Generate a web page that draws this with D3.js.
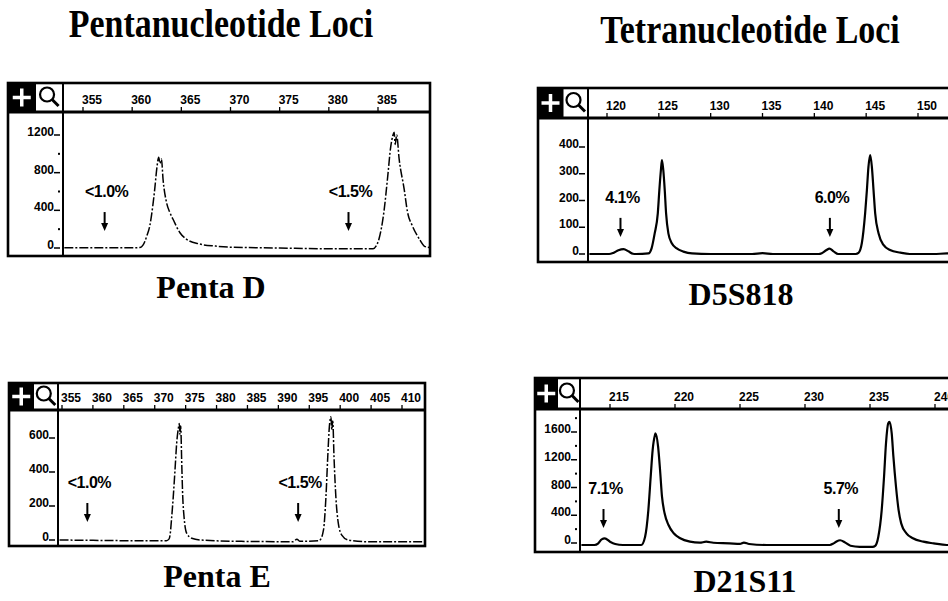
<!DOCTYPE html>
<html>
<head>
<meta charset="utf-8">
<script src="https://cdn.jsdelivr.net/npm/d3@7/dist/d3.min.js"></script>
<style>
  body { margin: 0; background: #fff; }
  svg { display: block; }
</style>
</head>
<body>
<svg id="chart" width="948" height="601"></svg>
<script>
// column headings and locus names
var columnTitles = ['Pentanucleotide Loci', 'Tetranucleotide Loci'];
var lociNames = ['Penta D', 'D5S818', 'Penta E', 'D21S11'];

// size ticks (bp) along the top of each trace
var pentaDSizeTicks = [355, 360, 365, 370, 375, 380, 385];
var d5s818SizeTicks = [120, 125, 130, 135, 140, 145, 150];
var pentaESizeTicks = [355, 360, 365, 370, 375, 380, 385, 390, 395, 400, 405, 410];
var d21s11SizeTicks = [215, 220, 225, 230, 235, 240];

// signal ticks (RFU)
var pentaDSignalTicks = [0, 400, 800, 1200];
var pentaDSignalMinor = [200, 600, 1000];
var d5s818SignalTicks = [0, 100, 200, 300, 400];
var pentaESignalTicks = [0, 200, 400, 600];
var d21s11SignalTicks = [0, 400, 800, 1200, 1600];
var d21s11SignalMinor = [200, 600, 1000, 1400, 1800];

// stutter annotations: label, size (bp), arrow tip (RFU)
var pentaDStutter = [['<1.0%', 357.2, 180], ['<1.5%', 382.0, 180]];
var d5s818Stutter = [['4.1%', 121.3, 64], ['6.0%', 141.5, 64]];
var pentaEStutter = [['<1.0%', 359.1, 106], ['<1.5%', 393.2, 106]];
var d21s11Stutter = [['7.1%', 214.5, 216], ['5.7%', 232.6, 216]];

// traces: [size bp, signal RFU]
var pentaDTrace = [
  [353.1, 2], [357, 2], [360, 2], [360.8, 5], [361.1, 30], [361.5, 130], [361.8, 240],
  [362.1, 450], [362.3, 630], [362.5, 840], [362.7, 965], [362.82, 900], [362.98, 945],
  [363.14, 730], [363.49, 485], [363.82, 380], [364.16, 305], [364.84, 165], [365.5, 95],
  [366.87, 42], [368.5, 20], [370.2, 8], [375, 0], [380, -8], [384.5, -8], [384.8, 20],
  [385.1, 96], [385.6, 382], [385.96, 730], [386.3, 1080], [386.5, 1190], [386.64, 1230],
  [386.75, 1100], [386.9, 1200], [387.15, 945], [387.66, 626], [388, 382], [388.5, 234],
  [389.2, 96], [389.7, 21], [390.2, 5]
];
var d5s818Trace = [
  [118.3, 0], [120.2, 0], [120.6, 4], [121.1, 14], [121.6, 18], [122.1, 9], [122.5, 1],
  [122.8, 0], [124.0, 2], [124.3, 21], [124.6, 77], [124.9, 152], [125.05, 239],
  [125.2, 314], [125.3, 351], [125.43, 314], [125.57, 239], [125.7, 152], [125.92, 77],
  [126.25, 40], [126.73, 21], [127.37, 9], [128.2, 2], [130, 0], [134, 0], [135, 3],
  [136, 0], [140.4, 0], [140.72, 3], [141.14, 14], [141.46, 20], [141.85, 10], [142.3, 0],
  [144.0, 0], [144.26, 4], [144.58, 40], [144.9, 152], [145.07, 239], [145.22, 326],
  [145.39, 370], [145.55, 326], [145.71, 239], [145.87, 152], [146.2, 77], [146.67, 34],
  [147.3, 15], [148.3, 5], [149.2, 0], [151.5, 0], [152.8, 2], [154, 2]
];
var pentaETrace = [
  [354.6, 0], [360, -2], [366, -4], [371.9, -4], [372.3, 5], [372.48, 29], [372.75, 137],
  [373.0, 255], [373.28, 412], [373.55, 569], [373.82, 657], [373.98, 686], [374.08, 620],
  [374.2, 670], [374.37, 451], [374.53, 255], [374.74, 137], [375.18, 39], [375.99, 10],
  [377.33, 0], [384, -8], [392.4, -10], [393.0, 5], [393.5, -8], [396.5, -5], [396.75, 0],
  [397.3, 59], [397.7, 255], [397.99, 490], [398.25, 667], [398.5, 725], [398.65, 650],
  [398.8, 700], [399.0, 490], [399.3, 255], [399.7, 98], [400.26, 29], [401.3, 0],
  [404.3, -10], [413.5, -10]
];
var d21s11Trace = [
  [212.8, -29], [213.8, -29], [214.1, -5], [214.36, 53], [214.6, 67], [215.0, 19],
  [215.4, -14], [216.0, -29], [217.4, -29], [217.7, 91], [217.95, 475], [218.13, 955],
  [218.28, 1340], [218.46, 1556], [218.5, 1580], [218.7, 1388], [218.85, 1052],
  [219.0, 667], [219.2, 428], [219.5, 259], [219.9, 140], [220.4, 68], [221.15, 19],
  [221.9, 4], [222.4, 19], [222.95, 4], [224.2, -5], [225, -14], [225.3, 5], [225.7, -14],
  [227.05, -29], [229.6, -29], [231.9, -29], [232.2, -5], [232.4, 19], [232.7, 40],
  [233.1, 5], [233.5, -40], [234.2, -55], [235.2, -55], [235.4, -40], [235.64, 91],
  [235.9, 475], [236.08, 955], [236.23, 1436], [236.4, 1724], [236.5, 1748],
  [236.67, 1580], [236.8, 1244], [237.0, 811], [237.2, 475], [237.4, 283], [237.8, 140],
  [238.3, 68], [239.1, 19], [239.9, -5], [240.9, -29], [242, -29]
];

var svg = d3.select('#chart');

// panel frames; x/y ranges are the pixel spots of the first and last labelled ticks
var panels = [
  {name: lociNames[0], trace: pentaDTrace, sizeTicks: pentaDSizeTicks,
    signalTicks: pentaDSignalTicks, signalMinor: pentaDSignalMinor, stutter: pentaDStutter,
    box: [8, 83, 430, 256], head: 112, left: 63,
    xd: [355, 385], xr: [83, 378], yd: [0, 1200], yr: [248, 135],
    dashed: true, nameAt: [211, 298]},
  {name: lociNames[1], trace: d5s818Trace, sizeTicks: d5s818SizeTicks,
    signalTicks: d5s818SignalTicks, signalMinor: [], stutter: d5s818Stutter,
    box: [538, 88, 962, 262], head: 118, left: 588,
    xd: [120, 150], xr: [607, 918], yd: [0, 400], yr: [254, 147],
    dashed: false, nameAt: [741, 305]},
  {name: lociNames[2], trace: pentaETrace, sizeTicks: pentaESizeTicks,
    signalTicks: pentaESignalTicks, signalMinor: [], stutter: pentaEStutter,
    box: [9, 383, 425, 546], head: 410, left: 58,
    xd: [355, 410], xr: [62, 402], yd: [0, 600], yr: [540, 438],
    dashed: true, nameAt: [217, 587]},
  {name: lociNames[3], trace: d21s11Trace, sizeTicks: d21s11SizeTicks,
    signalTicks: d21s11SignalTicks, signalMinor: d21s11SignalMinor, stutter: d21s11Stutter,
    box: [535, 378, 962, 552], head: 409, left: 580,
    xd: [215, 240], xr: [610, 935], yd: [0, 1600], yr: [543, 432],
    dashed: false, nameAt: [745, 592]}
];

var serif = '"Liberation Serif", "Times New Roman", serif';
var sans = '"Liberation Sans", Arial, sans-serif';

// headings are a little taller than the plain face
[[columnTitles[0], 221, 37], [columnTitles[1], 750, 43]].forEach(function(t) {
  svg.append('text')
    .attr('transform', 'translate(' + t[1] + ',' + t[2] + ') scale(0.97,1.15)')
    .attr('text-anchor', 'middle')
    .style('font', 'bold 35px ' + serif)
    .text(t[0]);
});

panels.forEach(function(p, i) {
  var x = d3.scaleLinear().domain(p.xd).range(p.xr);
  var y = d3.scaleLinear().domain(p.yd).range(p.yr);
  var x0 = p.box[0], y0 = p.box[1], x1 = p.box[2], y1 = p.box[3];
  var g = svg.append('g');

  // clip for the trace area
  var clipId = 'clip' + i;
  svg.append('clipPath').attr('id', clipId)
    .append('rect')
    .attr('x', p.left).attr('y', p.head)
    .attr('width', x1 - p.left).attr('height', y1 - p.head);

  // icons: black plus box and magnifier box
  var iconW = (p.left - x0) / 2;
  g.append('rect')
    .attr('x', x0).attr('y', y0)
    .attr('width', iconW).attr('height', p.head - y0)
    .attr('fill', '#000');
  var cx = x0 + iconW / 2, cy = (y0 + p.head) / 2;
  g.append('path')
    .attr('d', 'M' + (cx - 9) + ',' + cy + 'H' + (cx + 9) + 'M' + cx + ',' + (cy - 9) + 'V' + (cy + 9))
    .attr('stroke', '#fff').attr('stroke-width', 3.5);
  var mx = x0 + iconW * 1.42, my = cy - 3;
  g.append('circle')
    .attr('cx', mx).attr('cy', my).attr('r', 7)
    .attr('fill', 'none').attr('stroke', '#000').attr('stroke-width', 2.2);
  g.append('line')
    .attr('x1', mx + 4.8).attr('y1', my + 4.8)
    .attr('x2', mx + 11.5).attr('y2', my + 11.5)
    .attr('stroke', '#000').attr('stroke-width', 3);

  // frame
  g.append('rect')
    .attr('x', x0).attr('y', y0)
    .attr('width', x1 - x0).attr('height', y1 - y0)
    .attr('fill', 'none').attr('stroke', '#000').attr('stroke-width', 2.6);
  g.append('line')
    .attr('x1', x0).attr('x2', x1).attr('y1', p.head).attr('y2', p.head)
    .attr('stroke', '#000').attr('stroke-width', 3);
  g.append('line')
    .attr('x1', p.left).attr('x2', p.left).attr('y1', y0).attr('y2', y1)
    .attr('stroke', '#000').attr('stroke-width', 2);
  g.append('line')
    .attr('x1', x0 + iconW).attr('x2', x0 + iconW).attr('y1', y0).attr('y2', p.head)
    .attr('stroke', '#000').attr('stroke-width', 1);

  // size ticks in the header
  var st = g.selectAll('.st').data(p.sizeTicks).enter().append('g');
  st.append('line')
    .attr('x1', function(d) { return x(d); }).attr('x2', function(d) { return x(d); })
    .attr('y1', p.head - 5).attr('y2', p.head)
    .attr('stroke', '#000').attr('stroke-width', 1.3);
  st.append('text')
    .attr('x', function(d) { return x(d) - 1; })
    .attr('y', p.head - 8)
    .style('font', 'bold 12px ' + sans)
    .text(function(d) { return d; });

  // signal ticks in the left column
  var yt = g.selectAll('.yt').data(p.signalTicks).enter().append('g');
  yt.append('text')
    .attr('x', p.left - 9)
    .attr('y', function(d) { return y(d) + 1; })
    .attr('text-anchor', 'end')
    .style('font', 'bold 12px ' + sans)
    .text(function(d) { return d; });
  yt.append('line')
    .attr('x1', p.left - 9).attr('x2', p.left - 3)
    .attr('y1', function(d) { return y(d); }).attr('y2', function(d) { return y(d); })
    .attr('stroke', '#000').attr('stroke-width', 1.5);
  g.selectAll('.ym').data(p.signalMinor.filter(function(d) { return y(d) > p.head + 2; }))
    .enter().append('rect')
    .attr('x', p.left - 5).attr('y', function(d) { return y(d) - 1; })
    .attr('width', 2).attr('height', 2)
    .attr('fill', '#000');

  // trace
  var line = d3.line()
    .x(function(d) { return x(d[0]); })
    .y(function(d) { return y(d[1]); })
    .curve(d3.curveMonotoneX);
  g.append('path')
    .datum(p.trace)
    .attr('clip-path', 'url(#' + clipId + ')')
    .attr('d', line)
    .attr('fill', 'none')
    .attr('stroke', '#000')
    .attr('stroke-width', p.dashed ? 1.5 : 2.2)
    .attr('stroke-linejoin', 'round')
    .attr('stroke-dasharray', p.dashed ? '9,2,2,2' : null);

  // stutter arrows and percentages
  var ann = g.selectAll('.ann').data(p.stutter).enter().append('g');
  ann.append('line')
    .attr('x1', function(d) { return x(d[1]); }).attr('x2', function(d) { return x(d[1]); })
    .attr('y1', function(d) { return y(d[2]) - 19; })
    .attr('y2', function(d) { return y(d[2]) - 6; })
    .attr('stroke', '#000').attr('stroke-width', 2);
  ann.append('path')
    .attr('d', function(d) {
      var ax = x(d[1]), ay = y(d[2]);
      return 'M' + (ax - 3.5) + ',' + (ay - 8) + 'L' + (ax + 3.5) + ',' + (ay - 8) + 'L' + ax + ',' + ay + 'Z';
    })
    .attr('fill', '#000');
  ann.append('text')
    .attr('x', function(d) { return x(d[1]) + 2; })
    .attr('y', function(d) { return y(d[2]) - 34; })
    .attr('text-anchor', 'middle')
    .style('font', 'bold 16px ' + sans)
    .style('letter-spacing', '-0.5px')
    .text(function(d) { return d[0]; });

  // locus name
  svg.append('text')
    .attr('x', p.nameAt[0]).attr('y', p.nameAt[1])
    .attr('text-anchor', 'middle')
    .style('font', 'bold 32px ' + serif)
    .text(p.name);
});
</script>
</body>
</html>
